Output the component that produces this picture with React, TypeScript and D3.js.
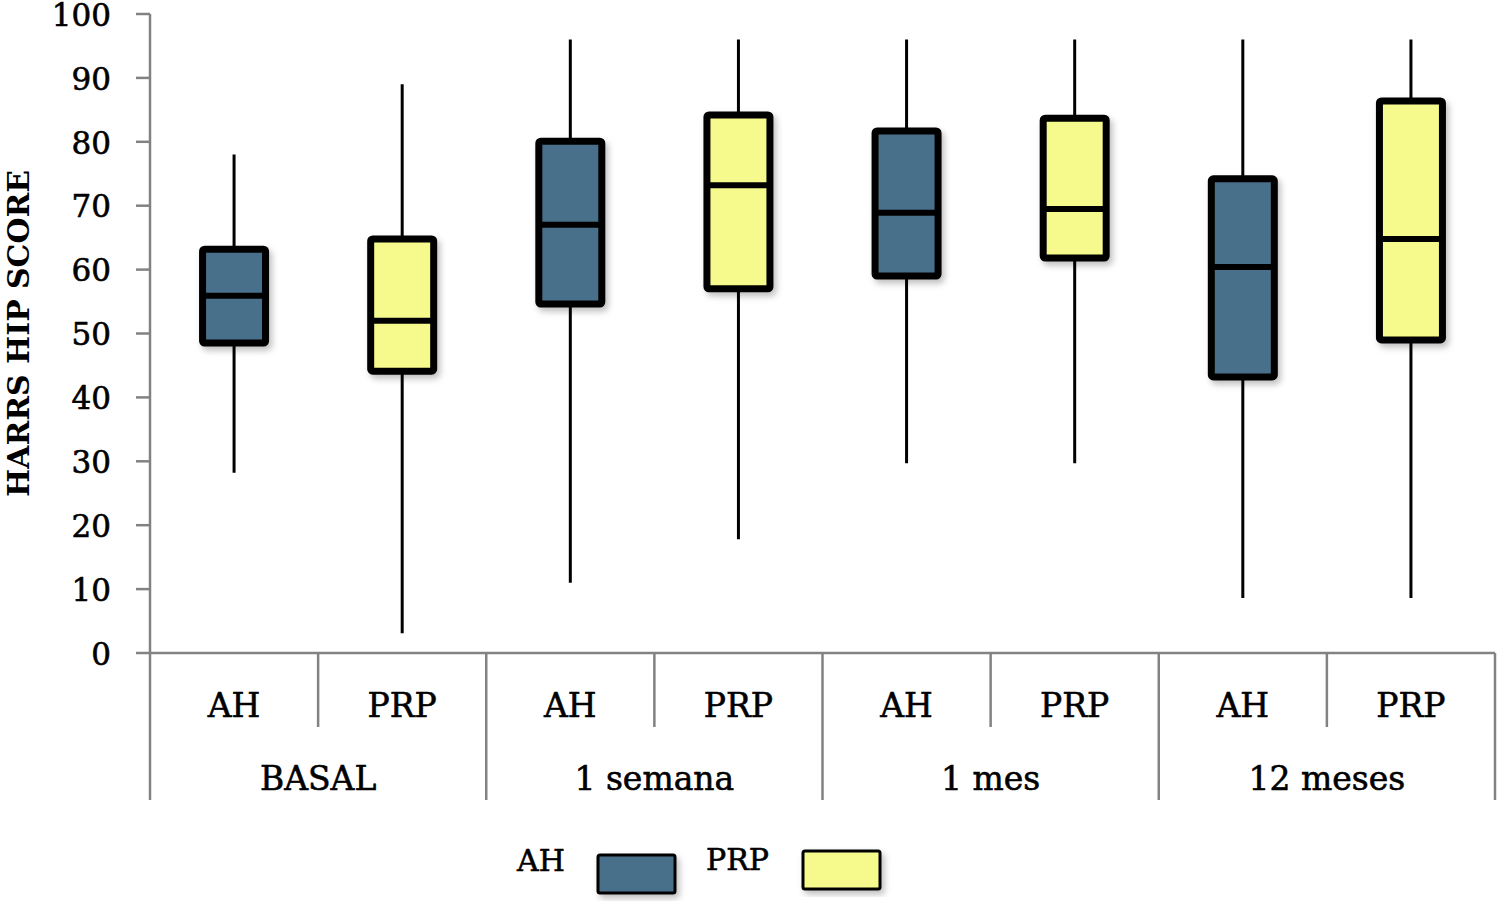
import * as d3 from 'd3';

const groups = ['BASAL', '1 semana', '1 mes', '12 meses'];
const series = ['AH', 'PRP'];
const seriesColors = ['#4a6f8a', '#f6fa8c'];

// one entry per box, ordered group by group: AH, PRP
const whiskerHigh = [78, 89, 96, 96, 96, 96, 96, 96];
const q3 = [63.2, 64.8, 80.1, 84.2, 81.7, 83.7, 74.2, 86.4];
const median = [55.9, 52, 67, 73.2, 68.9, 69.5, 60.4, 64.8];
const q1 = [48.5, 44.1, 54.6, 57, 59, 61.8, 43.2, 49];
const whiskerLow = [28.2, 3.1, 11, 17.8, 29.7, 29.7, 8.6, 8.6];

const yTicks = [0, 10, 20, 30, 40, 50, 60, 70, 80, 90, 100];

const W = 1500;
const H = 906;
const left = 150;
const right = 1495;
const top = 14;
const bottom = 653;

const tickFont = '"DejaVu Serif", serif';
// the original text is a little heavier than DejaVu Serif Book
const heavy = { stroke: '#000', strokeWidth: 0.6 };

export default function App() {
  const slots = d3.range(groups.length * series.length);
  const x = d3.scaleBand<number>().domain(slots).range([left, right]).padding(0);
  const g = d3.scaleBand<string>().domain(groups).range([left, right]).padding(0);
  const y = d3.scaleLinear().domain([0, 100]).range([bottom, top]);
  const boxW = 63;
  const axisColor = '#828282';

  return (
    <svg width={W} height={H} style={{ position: 'absolute', left: 0, top: 0, background: '#fff' }}>
      <defs>
        <filter id="shadow" x="-20%" y="-20%" width="140%" height="140%">
          <feDropShadow dx="3" dy="4" stdDeviation="3" floodColor="#000" floodOpacity="0.25" />
        </filter>
      </defs>

      {/* y axis */}
      <line x1={left} x2={left} y1={top} y2={800} stroke={axisColor} strokeWidth={2.5} />
      {yTicks.map((t) => (
        <g key={t}>
          <line x1={136} x2={left} y1={y(t)} y2={y(t)} stroke={axisColor} strokeWidth={2.5} />
          <text x={111} y={y(t)} dy="0.38em" textAnchor="end" fontFamily={tickFont} fontSize={31} fill="#000" {...heavy}>
            {t}
          </text>
        </g>
      ))}
      <text
        transform={`translate(29,${(170 + 497) / 2}) rotate(-90)`}
        textAnchor="middle"
        fontFamily={tickFont}
        fontWeight="bold"
        fontSize={30}
        textLength={327}
        lengthAdjust="spacingAndGlyphs"
      >
        HARRS HIP SCORE
      </text>

      {/* x axis */}
      <line x1={left} x2={right} y1={bottom} y2={bottom} stroke={axisColor} strokeWidth={2.5} />
      {slots.map((i) => {
        const xr = (x(i) ?? 0) + x.bandwidth();
        const isGroupEnd = i % 2 === 1;
        return (
          <line key={'d' + i} x1={xr} x2={xr} y1={bottom} y2={isGroupEnd ? 800 : 727} stroke={axisColor} strokeWidth={2.5} />
        );
      })}
      {slots.map((i) => (
        <text
          key={'s' + i}
          x={(x(i) ?? 0) + x.bandwidth() / 2}
          y={717}
          textAnchor="middle"
          fontFamily={tickFont}
          fontSize={33}
          {...heavy}
        >
          {series[i % 2]}
        </text>
      ))}
      {groups.map((name) => (
        <text
          key={name}
          x={(g(name) ?? 0) + g.bandwidth() / 2}
          y={790}
          textAnchor="middle"
          fontFamily={tickFont}
          fontSize={33}
          {...heavy}
        >
          {name}
        </text>
      ))}

      {/* boxes */}
      {slots.map((i) => {
        const cx = (x(i) ?? 0) + x.bandwidth() / 2;
        return (
          <g key={'b' + i}>
            <line x1={cx} x2={cx} y1={y(whiskerHigh[i])} y2={y(whiskerLow[i])} stroke="#000" strokeWidth={3} />
            <rect
              x={cx - boxW / 2}
              y={y(q3[i])}
              width={boxW}
              height={y(q1[i]) - y(q3[i])}
              rx={2}
              fill={seriesColors[i % 2]}
              stroke="#000"
              strokeWidth={7}
              filter="url(#shadow)"
            />
            <line
              x1={cx - boxW / 2}
              x2={cx + boxW / 2}
              y1={y(median[i])}
              y2={y(median[i])}
              stroke="#000"
              strokeWidth={6}
            />
          </g>
        );
      })}

      {/* legend */}
      <text x={517} y={871} fontFamily={tickFont} fontSize={30} {...heavy}>AH</text>
      <rect x={598} y={855} width={77} height={38} fill={seriesColors[0]} stroke="#000" strokeWidth={3} rx={2} filter="url(#shadow)" />
      <text x={706} y={870} fontFamily={tickFont} fontSize={30} {...heavy}>PRP</text>
      <rect x={803} y={851} width={77} height={38} fill={seriesColors[1]} stroke="#000" strokeWidth={3} rx={2} filter="url(#shadow)" />
    </svg>
  );
}
